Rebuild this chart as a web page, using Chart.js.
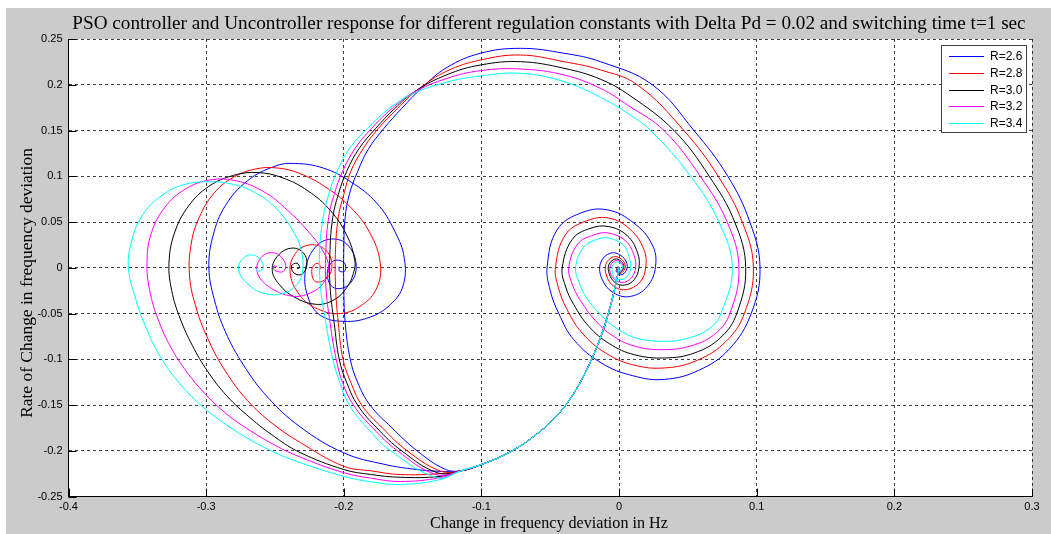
<!DOCTYPE html>
<html>
<head>
<meta charset="utf-8">
<script src="https://cdn.jsdelivr.net/npm/chart.js@4.4.1/dist/chart.umd.min.js"></script>
<style>
  html, body { margin: 0; padding: 0; background: #fff; }
  canvas { display: block; }
</style>
</head>
<body>
<canvas id="phaseChart" width="1051" height="534"></canvas>
<script>
// series names and colours (MATLAB default b, r, k, m, c)
const rLabels = ['R=2.6', 'R=2.8', 'R=3.0', 'R=3.2', 'R=3.4'];
const lineColors = ['#0000ff', '#ff0000', '#000000', '#ff00ff', '#00ffff'];

const xTicks = [-0.4, -0.3, -0.2, -0.1, 0, 0.1, 0.2, 0.3];
const xTickLabels = ['-0.4', '-0.3', '-0.2', '-0.1', '0', '0.1', '0.2', '0.3'];
const yTicks = [-0.25, -0.2, -0.15, -0.1, -0.05, 0, 0.05, 0.1, 0.15, 0.2, 0.25];
const yTickLabels = ['-0.25', '-0.2', '-0.15', '-0.1', '-0.05', '0', '0.05', '0.1', '0.15', '0.2', '0.25'];

// first swing, same for every R  [df, d(df)/dt]
const startDrop = [[0,0],[-0.002,-0.015],[-0.006,-0.04],[-0.012,-0.07],[-0.02,-0.1],[-0.03,-0.13],
  [-0.043,-0.158],[-0.06,-0.182],[-0.08,-0.202],[-0.1,-0.215],[-0.115,-0.222]];

// uncontrolled: settles on the left
const unc26 = [[-0.13,-0.2225],[-0.147,-0.2205],[-0.171,-0.2147],[-0.2,-0.2023],[-0.2316,-0.174],[-0.2556,-0.141],
  [-0.273,-0.106],[-0.286,-0.07],[-0.294,-0.035],[-0.298,0],[-0.295,0.035],[-0.286,0.068],[-0.27,0.095],[-0.25,0.111],
  [-0.236,0.114],[-0.215,0.109],[-0.195,0.094],[-0.176,0.0706],[-0.163,0.04],[-0.156,0.01],[-0.157,-0.02],
  [-0.166,-0.04],[-0.181,-0.054],[-0.2,-0.0586],[-0.217,-0.052],[-0.226,-0.032],[-0.228,-0.004],[-0.222,0.02],
  [-0.211,0.031],[-0.198,0.026],[-0.191,0.003],[-0.196,-0.018],[-0.207,-0.022],[-0.212,-0.008],[-0.208,0.007],
  [-0.2,0.006],[-0.199,-0.003],[-0.203,-0.004],[-0.2035,0.001]];
const unc28 = [[-0.13,-0.225],[-0.159,-0.226],[-0.18,-0.222],[-0.2,-0.217],[-0.2316,-0.191],[-0.252,-0.17],
  [-0.27,-0.145],[-0.286,-0.113],[-0.298,-0.08],[-0.307,-0.045],[-0.312,-0.01],[-0.311,0.025],[-0.305,0.055],
  [-0.294,0.082],[-0.28,0.099],[-0.264,0.108],[-0.248,0.109],[-0.232,0.103],[-0.213,0.088],[-0.195,0.066],
  [-0.181,0.038],[-0.1735,0.005],[-0.176,-0.022],[-0.187,-0.041],[-0.2025,-0.05],[-0.219,-0.045],[-0.232,-0.03],
  [-0.239,-0.005],[-0.235,0.016],[-0.2244,0.025],[-0.2135,0.0197],[-0.2086,0.0036],[-0.2122,-0.0113],
  [-0.2207,-0.015],[-0.2232,-0.002],[-0.2195,0.005],[-0.2165,0],[-0.218,-0.002]];
const unc30 = [[-0.13,-0.228],[-0.159,-0.229],[-0.18,-0.226],[-0.2,-0.2205],[-0.2316,-0.202],[-0.25,-0.185],
  [-0.268,-0.164],[-0.285,-0.14],[-0.299,-0.113],[-0.31,-0.085],[-0.319,-0.055],[-0.325,-0.025],[-0.327,0.005],
  [-0.323,0.038],[-0.313,0.067],[-0.298,0.089],[-0.28,0.101],[-0.262,0.104],[-0.244,0.098],[-0.226,0.084],
  [-0.21,0.063],[-0.198,0.036],[-0.192,0.008],[-0.193,-0.006],[-0.198,-0.022],[-0.207,-0.035],[-0.22,-0.04],
  [-0.236,-0.032],[-0.247,-0.018],[-0.252,-0.002],[-0.2474,0.014],[-0.2377,0.0215],[-0.2292,0.016],
  [-0.2268,0.003],[-0.2304,-0.007],[-0.236,-0.006],[-0.238,0.002],[-0.234,0.005],[-0.232,0],[-0.234,-0.001]];
const unc32 = [[-0.13,-0.2295],[-0.159,-0.2336],[-0.18,-0.23],[-0.2,-0.224],[-0.2316,-0.207],[-0.25,-0.194],
  [-0.268,-0.178],[-0.285,-0.16],[-0.3,-0.139],[-0.314,-0.114],[-0.326,-0.086],[-0.335,-0.056],[-0.341,-0.025],
  [-0.343,0.005],[-0.34,0.037],[-0.33,0.066],[-0.315,0.086],[-0.297,0.096],[-0.278,0.095],[-0.258,0.083],
  [-0.241,0.063],[-0.226,0.04],[-0.215,0.018],[-0.211,0],[-0.215,-0.017],[-0.2244,-0.0276],[-0.2377,-0.031],
  [-0.2547,-0.0204],[-0.263,-0.004],[-0.2595,0.0123],[-0.2498,0.016],[-0.2425,0.005],[-0.2438,-0.004],
  [-0.25,-0.003],[-0.251,0.002],[-0.2486,0.001]];
const unc34 = [[-0.13,-0.2315],[-0.159,-0.2369],[-0.18,-0.234],[-0.2,-0.228],[-0.2316,-0.213],[-0.25,-0.202],
  [-0.268,-0.188],[-0.286,-0.171],[-0.304,-0.15],[-0.32,-0.125],[-0.333,-0.098],[-0.343,-0.068],[-0.351,-0.035],
  [-0.3565,0],[-0.354,0.03],[-0.346,0.058],[-0.334,0.077],[-0.318,0.09],[-0.2995,0.094],[-0.28,0.091],
  [-0.262,0.08],[-0.248,0.063],[-0.238,0.043],[-0.231,0.02],[-0.23,-0.005],[-0.234,-0.018],[-0.242,-0.027],
  [-0.255,-0.029],[-0.268,-0.02],[-0.2765,-0.002],[-0.2716,0.0123],[-0.263,0.0123],[-0.2583,0.001],
  [-0.262,-0.004],[-0.2644,0]];

// PSO controlled: big loop and back to the origin
const pso26 = [[-0.127,-0.2198],[-0.1468,-0.2],[-0.165,-0.175],[-0.181,-0.15],[-0.19,-0.125],[-0.1953,-0.1],
  [-0.199,-0.06],[-0.2,-0.02],[-0.2,0.02],[-0.199,0.055],[-0.196,0.08],[-0.19,0.105],[-0.182,0.13],[-0.171,0.152],
  [-0.158,0.174],[-0.143,0.197],[-0.125,0.219],[-0.1007,0.2344],[-0.0716,0.2398],[-0.04,0.2344],[-0.0135,0.2252],
  [0.0241,0.2],[0.0544,0.15],[0.079,0.1],[0.095,0.05],[0.1024,0],[0.096,-0.05],[0.08,-0.089],[0.058,-0.112],
  [0.033,-0.122],[0.01,-0.118],[-0.013,-0.104],[-0.0329,-0.0786],[-0.0438,-0.05],[-0.05,-0.025],[-0.0522,0.0015],
  [-0.045,0.0415],[-0.028,0.0597],[-0.0086,0.0633],[0.0108,0.0488],[0.0241,0.0251],[0.0265,0.0015],
  [0.0205,-0.0204],[0.0084,-0.0313],[-0.0038,-0.0276],[-0.0122,-0.013],[-0.0135,0.005],[-0.0062,0.016],
  [0.0023,0.0123],[0.006,0.0014],[0.0023,-0.0076],[-0.002,-0.004],[-0.001,0.001]];
const pso28 = [[-0.13,-0.222],[-0.154,-0.2],[-0.172,-0.175],[-0.187,-0.15],[-0.195,-0.125],[-0.2006,-0.1],
  [-0.204,-0.06],[-0.206,-0.02],[-0.206,0.02],[-0.204,0.055],[-0.2,0.08],[-0.195,0.105],[-0.186,0.13],
  [-0.175,0.152],[-0.161,0.174],[-0.146,0.195],[-0.125,0.215],[-0.1007,0.227],[-0.0716,0.2325],[-0.04,0.2252],
  [-0.0135,0.2162],[0.0132,0.2],[0.0471,0.15],[0.072,0.1],[0.0895,0.05],[0.0976,0],[0.091,-0.05],[0.078,-0.08],
  [0.057,-0.101],[0.033,-0.1095],[0.01,-0.106],[-0.01,-0.093],[-0.027,-0.071],[-0.038,-0.045],[-0.044,-0.022],
  [-0.0462,0],[-0.039,0.036],[-0.024,0.051],[-0.0075,0.0543],[0.008,0.042],[0.018,0.02],[0.0193,0],[0.015,-0.016],
  [0.005,-0.024],[-0.004,-0.02],[-0.009,-0.009],[-0.0095,0.004],[-0.004,0.012],[0.002,0.009],[0.0045,0.001],
  [0.0015,-0.006],[-0.0015,-0.003],[-0.001,0.001]];
const pso30 = [[-0.132,-0.224],[-0.158,-0.2],[-0.176,-0.175],[-0.19,-0.15],[-0.198,-0.125],[-0.2033,-0.1],
  [-0.207,-0.06],[-0.21,-0.02],[-0.21,0.02],[-0.208,0.055],[-0.204,0.08],[-0.198,0.105],[-0.189,0.13],
  [-0.177,0.152],[-0.163,0.174],[-0.148,0.193],[-0.125,0.211],[-0.1007,0.2216],[-0.0716,0.2252],[-0.04,0.218],
  [-0.0135,0.206],[0.008,0.188],[0.0399,0.15],[0.0655,0.1],[0.084,0.05],[0.092,0],[0.0855,-0.05],[0.074,-0.076],
  [0.055,-0.093],[0.033,-0.0986],[0.011,-0.095],[-0.007,-0.083],[-0.022,-0.064],[-0.033,-0.04],[-0.039,-0.02],
  [-0.0413,0],[-0.034,0.031],[-0.021,0.043],[-0.0075,0.045],[0.006,0.035],[0.0135,0.016],[0.0144,0],
  [0.011,-0.013],[0.004,-0.019],[-0.003,-0.016],[-0.007,-0.007],[-0.0075,0.003],[-0.003,0.0095],[0.0015,0.007],
  [0.0035,0.001],[0.001,-0.005],[-0.001,-0.002],[-0.0005,0.001]];
const pso32 = [[-0.133,-0.226],[-0.161,-0.2],[-0.179,-0.175],[-0.193,-0.15],[-0.201,-0.125],[-0.2055,-0.1],
  [-0.21,-0.06],[-0.213,-0.02],[-0.213,0.02],[-0.211,0.055],[-0.207,0.08],[-0.201,0.105],[-0.192,0.13],
  [-0.18,0.152],[-0.165,0.174],[-0.15,0.191],[-0.125,0.207],[-0.1007,0.2154],[-0.0716,0.2172],[-0.04,0.2107],
  [-0.0135,0.196],[0.007,0.177],[0.0326,0.15],[0.059,0.1],[0.0785,0.05],[0.0871,0],[0.0805,-0.05],[0.07,-0.072],
  [0.053,-0.085],[0.033,-0.0895],[0.012,-0.086],[-0.004,-0.075],[-0.017,-0.058],[-0.028,-0.036],[-0.034,-0.018],
  [-0.0365,0],[-0.03,0.026],[-0.018,0.036],[-0.0075,0.0379],[0.005,0.029],[0.011,0.013],[0.012,0],[0.009,-0.011],
  [0.003,-0.016],[-0.003,-0.013],[-0.0065,-0.005],[-0.006,0.003],[-0.002,0.008],[0.0015,0.0055],[0.003,0.0005],
  [0.0005,-0.004],[-0.001,-0.0015],[0,0.001]];
const pso34 = [[-0.132,-0.2296],[-0.166,-0.2],[-0.183,-0.175],[-0.196,-0.15],[-0.203,-0.125],[-0.208,-0.1],
  [-0.213,-0.06],[-0.217,-0.02],[-0.2175,0.02],[-0.215,0.055],[-0.211,0.08],[-0.205,0.105],[-0.196,0.13],
  [-0.183,0.152],[-0.167,0.174],[-0.15,0.19],[-0.125,0.203],[-0.1007,0.2096],[-0.0716,0.2125],[-0.04,0.2034],
  [-0.0135,0.1863],[0.005,0.17],[0.0229,0.15],[0.052,0.1],[0.0725,0.05],[0.0823,0],[0.074,-0.05],[0.066,-0.066],
  [0.05,-0.077],[0.033,-0.0804],[0.013,-0.077],[-0.001,-0.067],[-0.013,-0.052],[-0.024,-0.032],[-0.029,-0.016],
  [-0.0316,0],[-0.026,0.022],[-0.016,0.031],[-0.008,0.0324],[0.003,0.025],[0.0075,0.011],[0.0084,0],
  [0.006,-0.009],[0.002,-0.013],[-0.003,-0.011],[-0.005,-0.004],[-0.0045,0.003],[-0.0015,0.0065],[0.001,0.0045],
  [0.0025,0],[0.0005,-0.003],[-0.001,-0.001],[0,0.0005]];

const uncontrolled = [unc26, unc28, unc30, unc32, unc34];
const controlled = [pso26, pso28, pso30, pso32, pso34];

function toXY(pts) {
  return pts.map(p => ({x: p[0], y: p[1]}));
}

const datasets = [];
for (let i = 0; i < rLabels.length; i++) {
  datasets.push({
    label: rLabels[i],
    data: toXY(startDrop.concat(uncontrolled[i])),
    borderColor: lineColors[i],
    order: 10 - 2 * i
  });
  datasets.push({
    label: rLabels[i] + ' PSO',
    data: toXY(startDrop.concat(controlled[i])),
    borderColor: lineColors[i],
    order: 9 - 2 * i
  });
}
datasets.forEach(d => {
  d.showLine = true;
  d.borderWidth = 1;
  d.pointRadius = 0;
  d.pointHoverRadius = 0;
  d.tension = 0.4;
  d.fill = false;
});

const serif = '"Liberation Serif", "Times New Roman", serif';
const sans = '"Liberation Sans", Arial, sans-serif';

// fit a string to a width
function fitFont(ctx, text, width, family) {
  ctx.font = '20px ' + family;
  const w = ctx.measureText(text).width;
  return (20 * width / w).toFixed(2) + 'px ' + family;
}

const figurePlugin = {
  id: 'figure',
  beforeDraw(chart) {
    const c = chart.ctx;
    const a = chart.chartArea;
    c.save();
    c.fillStyle = '#ffffff';
    c.fillRect(0, 0, chart.width, chart.height);
    c.fillStyle = '#cbcbcb';
    c.fillRect(6, 8, chart.width - 6, chart.height - 8);
    c.fillStyle = '#ffffff';
    c.fillRect(a.left, a.top, a.right - a.left, a.bottom - a.top);
    c.restore();
  },
  afterDraw(chart) {
    const c = chart.ctx;
    const a = chart.chartArea;
    const xs = chart.scales.x;
    const ys = chart.scales.y;
    c.save();

    // inward tick marks
    c.strokeStyle = '#000';
    c.lineWidth = 1;
    c.beginPath();
    xTicks.forEach(v => {
      const px = Math.round(xs.getPixelForValue(v)) + 0.5;
      c.moveTo(px, a.bottom);
      c.lineTo(px, a.bottom - 8);
    });
    yTicks.forEach(v => {
      const py = Math.round(ys.getPixelForValue(v)) + 0.5;
      c.moveTo(a.left, py);
      c.lineTo(a.left + 8, py);
    });
    c.stroke();

    // title and axis labels
    const title = 'PSO controller and Uncontroller response for different regulation constants with Delta Pd = 0.02 and switching time t=1 sec';
    c.fillStyle = '#000';
    c.textAlign = 'center';
    c.textBaseline = 'alphabetic';
    c.font = fitFont(c, title, 954, serif);
    c.fillText(title, 549, 29);

    const xLabel = 'Change in frequency deviation in Hz';
    c.font = fitFont(c, xLabel, 238, serif);
    c.fillText(xLabel, 549, 528);

    const yLabel = 'Rate of Change in frequency deviation';
    c.font = fitFont(c, yLabel, 270, serif);
    c.translate(32, 283);
    c.rotate(-Math.PI / 2);
    c.fillText(yLabel, 0, 0);
    c.setTransform(1, 0, 0, 1, 0, 0);

    // legend box in the upper right corner
    c.fillStyle = '#ffffff';
    c.fillRect(941.5, 45.5, 85, 87);
    c.strokeStyle = '#404040';
    c.lineWidth = 1;
    c.strokeRect(941.5, 45.5, 85, 87);
    c.font = '12px ' + sans;
    c.textAlign = 'left';
    c.textBaseline = 'middle';
    for (let i = 0; i < rLabels.length; i++) {
      const y = Math.round(56 + i * 16.8) + 0.5;
      c.strokeStyle = lineColors[i];
      c.beginPath();
      c.moveTo(949, y);
      c.lineTo(984, y);
      c.stroke();
      c.fillStyle = '#000';
      c.fillText(rLabels[i], 990, y + 0.5);
    }
    c.restore();
  }
};

const ctx = document.getElementById('phaseChart').getContext('2d');
const phaseChart = new Chart(ctx, {
  type: 'scatter',
  data: { datasets: datasets },
  options: {
    responsive: false,
    animation: false,
    events: [],
    layout: { padding: { top: 39, left: 0, right: 19, bottom: 0 } },
    plugins: {
      legend: { display: false },
      title: { display: false },
      tooltip: { enabled: false }
    },
    scales: {
      x: {
        type: 'linear',
        min: -0.4,
        max: 0.3,
        afterBuildTicks: s => { s.ticks = xTicks.map(v => ({value: v})); },
        afterFit: s => { s.height = 37.5; },
        grid: { color: 'rgba(0,0,0,0.75)', lineWidth: 1, drawTicks: false },
        border: { display: true, color: '#000', width: 1, dash: [3, 3] },
        ticks: {
          autoSkip: false,
          maxRotation: 0,
          padding: 4,
          color: '#000',
          font: { family: sans, size: 11 },
          callback: (v, i) => xTickLabels[i]
        }
      },
      y: {
        type: 'linear',
        min: -0.25,
        max: 0.25,
        afterBuildTicks: s => { s.ticks = yTicks.map(v => ({value: v})); },
        afterFit: s => { s.width = 68.5; },
        grid: { color: 'rgba(0,0,0,0.75)', lineWidth: 1, drawTicks: false },
        border: { display: true, color: '#000', width: 1, dash: [3, 3] },
        ticks: {
          autoSkip: false,
          padding: 6,
          color: '#000',
          font: { family: sans, size: 11 },
          callback: (v, i) => yTickLabels[i]
        }
      }
    }
  },
  plugins: [figurePlugin]
});
</script>
</body>
</html>
